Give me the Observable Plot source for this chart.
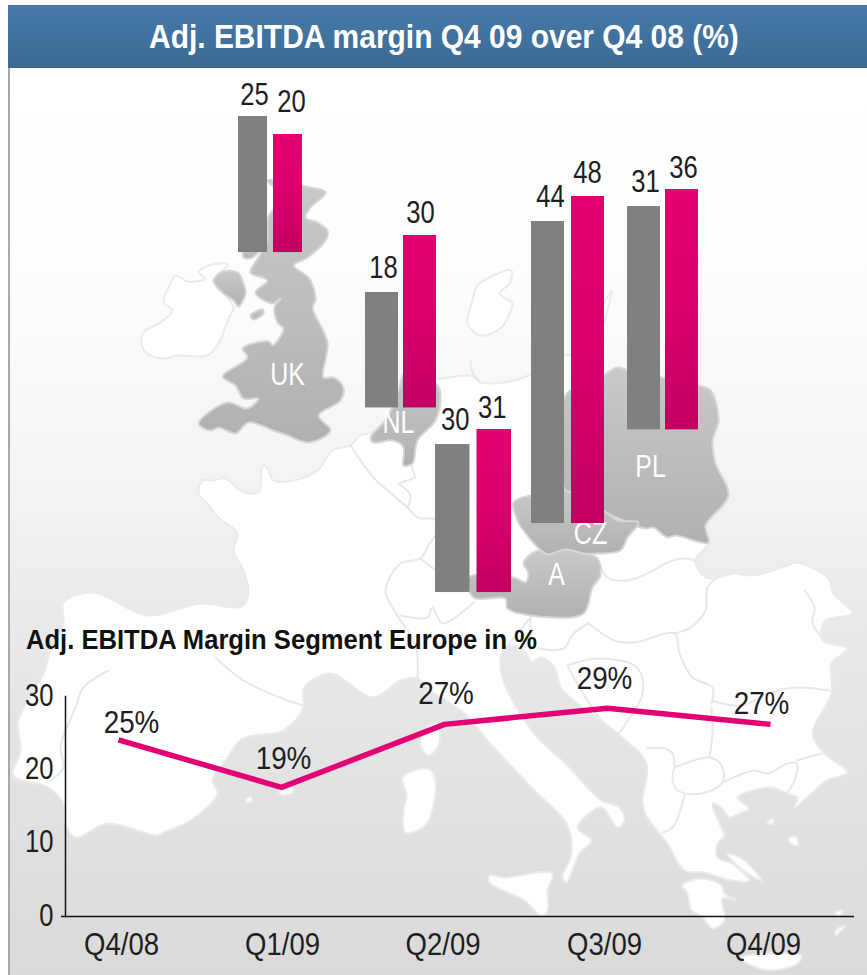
<!DOCTYPE html>
<html><head><meta charset="utf-8">
<script src="https://cdn.jsdelivr.net/npm/d3@7"></script>
<script src="https://cdn.jsdelivr.net/npm/@observablehq/plot@0.6"></script>
<style>
html,body{margin:0;padding:0;background:#fff}
#page{position:relative;width:867px;height:975px;overflow:hidden;font-family:"Liberation Sans",sans-serif}
#panel{position:absolute;left:8px;top:67px;right:0;bottom:0;border-left:2px solid #a8a8a8;background:linear-gradient(#fff 0%,#fcfcfc 25%,#f4f4f4 45%,#e9e9e9 62%,#dadada 100%)}
#title{position:absolute;left:8px;right:0;top:5px;height:63px;box-sizing:border-box;border-top:1px solid #56718c;border-bottom:1px solid #3a6488;background:linear-gradient(#457aab,#3d6a93);color:#fff;font-weight:700;font-size:34px;line-height:61px;white-space:nowrap}
#title span{position:absolute;left:141px;top:0;display:inline-block;transform:scaleX(.881);transform-origin:0 50%}
#sub{position:absolute;left:26px;top:622px;color:#111;font-weight:700;font-size:28px;line-height:36px;white-space:nowrap;transform:scaleX(.914);transform-origin:0 50%}
#page svg{position:absolute;overflow:visible;background:transparent}
</style></head>
<body><div id="page"><div id="panel"></div><div id="title"><span>Adj. EBITDA margin Q4 09 over Q4 08 (%)</span></div></div>
<script>
// ---------- chart data ----------
const periods = ["Q4 08", "Q4 09"];
const countries = ["UK", "NL", "A", "CZ", "PL"];
const valuesQ408 = [25, 18, 30, 44, 31];
const valuesQ409 = [20, 30, 31, 48, 36];
const quarters = ["Q4/08", "Q1/09", "Q2/09", "Q3/09", "Q4/09"];
const marginPlotted = [24.1, 17.6, 26.2, 28.4, 26.2];
const marginLabels = ["25%", "19%", "27%", "29%", "27%"];
const marginTicks = [0, 10, 20, 30];

// ---------- traced map outlines (map coordinates) ----------
const mainland = [[198,493],[202,480],[213,480],[225,478],[240,490],[258,492],[262,465],[267,468],[273,480],[293,480],[317,470],[332,450],[350,445],[360,435],[372,432],[387,417],[398,390],[405,372],[437,378],[470,375],[480,382],[503,382],[528,375],[548,360],[571,355],[603,375],[617,367],[627,370],[698,385],[710,390],[718,420],[712,440],[715,463],[728,495],[705,525],[708,542],[695,560],[705,577],[717,577],[733,573],[753,575],[787,565],[795,562],[827,577],[833,593],[852,613],[825,620],[822,640],[847,648],[831,663],[831,693],[812,733],[824,753],[847,772],[826,780],[794,807],[797,797],[786,793],[771,787],[737,797],[749,808],[741,812],[729,817],[721,807],[712,803],[719,823],[724,835],[717,843],[717,857],[731,863],[749,880],[731,880],[704,872],[684,870],[667,843],[647,817],[642,802],[646,763],[617,733],[561,688],[554,667],[541,657],[531,662],[526,653],[515,645],[503,650],[501,673],[531,730],[567,765],[601,800],[619,807],[624,820],[617,827],[601,807],[577,827],[591,840],[579,853],[566,882],[562,877],[571,853],[566,823],[534,790],[487,740],[464,713],[430,690],[417,678],[400,680],[373,697],[330,673],[303,688],[303,707],[283,730],[242,738],[227,757],[212,780],[217,793],[190,820],[163,832],[157,835],[107,823],[75,837],[65,823],[63,803],[48,787],[13,775],[20,750],[18,720],[43,673],[50,650],[63,622],[63,602],[93,592],[147,615],[200,603],[233,607],[243,605],[248,590],[243,570],[233,550],[237,533],[218,517],[207,503]];
const ireland = [[227,264],[208,265],[198,272],[205,278],[187,281],[175,275],[169,285],[163,302],[172,310],[160,322],[143,332],[142,347],[150,355],[165,358],[177,355],[207,355],[218,343],[228,318],[233,307],[223,293],[213,280]];
const denmark = [[467,323],[472,300],[477,285],[511,270],[509,283],[499,293],[512,303],[509,313],[501,327],[480,335]];
const sweden = [[611,290],[607,310],[600,330],[590,332],[600,310]];
const sicily = [[489,875],[504,877],[552,873],[547,890],[547,910],[541,915],[524,900],[489,882]];
const sardinia = [[402,777],[427,768],[434,775],[434,800],[425,825],[405,832],[403,810],[406,795]];
const corsica = [[423,730],[437,722],[438,745],[428,755],[420,745]];
const balearic1 = [[278,787],[293,788],[291,793],[280,794]];
const balearic2 = [[246,798],[251,796],[251,801],[246,802]];
const crete = [[741,957],[767,953],[801,955],[797,963],[771,970],[751,965]];
const peloponnese = [[682,885],[701,878],[721,885],[724,893],[736,900],[722,898],[724,920],[712,928],[701,915],[691,910],[687,893]];
const euboea = [[727,853],[744,860],[761,880],[740,868]];
const aegean1 = [[767,822],[773,818],[772,824]];
const aegean2 = [[788,838],[795,836],[798,845],[790,843]];
const aegean3 = [[835,912],[842,910],[838,916]];
const aegean4 = [[835,930],[845,925],[835,935]];
const whiteShapes = [mainland, ireland, denmark, sweden, sicily, sardinia, corsica, balearic1, balearic2, crete, peloponnese, euboea, aegean1, aegean2, aegean3, aegean4];

const ukOutline = [[267,180],[310,187],[325,192],[310,207],[305,217],[317,222],[327,230],[325,240],[307,257],[293,265],[308,277],[313,287],[315,300],[312,307],[327,342],[323,377],[333,377],[343,387],[340,400],[318,415],[330,430],[308,442],[287,435],[273,430],[248,422],[235,433],[218,427],[210,430],[198,423],[227,402],[247,408],[258,398],[243,398],[235,385],[222,376],[247,357],[242,348],[268,341],[272,345],[283,328],[277,322],[274,307],[280,298],[272,303],[255,292],[267,280],[250,272],[258,257],[267,240],[268,216],[275,206],[276,190]];
const ukIsland = [[243,250],[258,250],[252,257],[243,257]];
const northIreland = [[213,280],[223,271],[237,272],[243,283],[245,293],[238,306],[233,300],[223,293]];
const isleOfMan = [[250,315],[262,309],[263,313],[253,319]];
const netherlands = [[370,437],[387,417],[398,390],[405,372],[437,385],[440,397],[435,420],[417,440],[412,463],[403,465],[403,447],[393,440],[373,442]];
const poland = [[565,395],[603,375],[617,367],[627,370],[698,385],[710,390],[718,420],[712,440],[715,463],[728,495],[705,525],[708,542],[675,535],[667,537],[653,527],[645,528],[607,513],[565,490],[560,440]];
const czechia = [[513,502],[530,495],[565,490],[607,513],[617,520],[638,522],[627,537],[620,550],[600,553],[582,553],[565,549],[547,554],[523,530],[517,520]];
const austria = [[538,550],[547,554],[565,549],[582,553],[597,558],[600,575],[592,587],[583,613],[552,617],[507,608],[505,598],[473,597],[468,577],[513,577],[525,582],[528,573],[523,562]];
const grayShapes = [ukOutline, ukIsland, northIreland, isleOfMan, netherlands, poland, czechia, austria];

const borders = [
  [[215,657],[243,680],[287,700],[303,705]],
  [[108,670],[83,687],[75,707],[60,747],[63,767],[50,780]],
  [[350,445],[373,477],[393,495],[407,507],[417,517],[430,518],[445,520]],
  [[398,483],[410,495],[407,507]],[[415,477],[410,463]],[[415,477],[398,483]],
  [[445,520],[428,545],[420,558],[400,563],[385,590],[395,612],[415,645],[417,678]],
  [[400,615],[427,617],[432,607],[442,623],[473,602]],
  [[420,558],[440,572],[468,577]],
  [[530,617],[530,650]],[[588,623],[573,633],[563,648],[537,648]],
  [[597,558],[607,577],[627,580],[653,570],[667,562],[683,558],[695,560]],
  [[717,577],[707,587],[705,610],[690,627],[674,633]],
  [[587,622],[614,640],[634,642],[674,633],[679,653],[692,677],[712,687],[711,703]],
  [[711,700],[741,705],[770,692],[797,687],[829,690]],
  [[567,665],[597,658],[634,665],[642,678],[641,697],[627,720],[617,733],[601,720],[575,680],[567,665]],
  [[711,707],[712,733],[709,757]],
  [[674,767],[709,757],[721,765],[722,782],[701,793],[677,790],[672,777],[674,767]],
  [[684,795],[672,827],[662,832]],
  [[647,748],[664,748],[672,753],[674,767]],
  [[722,782],[754,770],[767,773],[787,763],[796,763],[794,780],[786,793]],
  [[796,760],[821,753]],
  [[804,590],[814,607],[812,623],[825,640]],
  [[470,360],[472,372],[480,382]],
  [[503,650],[530,617]]
];

// ---------- layout for the five column pairs ----------
const pairLeft = [238, 365, 435, 531, 627];
const pairWidth = [64, 71, 76, 73, 71];
const pairGap = [6, 5, 7, 7, 5];
const pairBottom = [252, 407.5, 592, 523, 429.5];
const pairBaseline = [-12.8, -6.3, 20.13, -4.32, -34.7];
const pairScale = [3.6, 4.75, 15, 6.25, 3.4];
const labelDx = [[1.5,3.5],[1.5,0.5],[2.5,-2],[2.5,-0.5],[1.5,1.5]];
const labelDy = [[-22,-33],[-25,-23],[-25,-22],[-25,-24],[-25,-22]];
const lineLabelDx = [13,2,1.5,-3,-9];
const lineLabelDy = [-17,-29,-31,-29,-21];
const quarterTickDx = [3,1,-1.5,-3,-7];

const page = document.getElementById("page");
const font = '"Liberation Sans",sans-serif';
const textSize = 32;
const ink = "#1e1e1e";

// condense real SVG text horizontally: the installed sans has no narrow cut
function condense(svg){
  svg.querySelectorAll("text").forEach(t=>{
    const s=t.textContent;
    const f=/%/.test(s)?0.87:/Q/.test(s)?0.86:/^\d+$/.test(s)?0.8:0.78;
    const len=t.getComputedTextLength();
    if(len>0){t.setAttribute("textLength",(len*f).toFixed(1));t.setAttribute("lengthAdjust","spacingAndGlyphs");}
  });
}

// ---------- map ----------
const mapX = {domain:[0,867], range:[0,867]};
const mapY = {domain:[0,975], range:[0,975]};
const shape = (pts, opts) => Plot.line(pts, {x:d=>d[0], y:d=>d[1], curve:"catmull-rom-closed", ...opts});
const mapLabels = [["UK",287,374],["NL",398,422],["PL",650,466],["CZ",590,533],["A",556,574]];
const map = Plot.plot({
  width:867, height:975, margin:0, x:{...mapX, axis:null}, y:{...mapY, axis:null},
  marks:[
    ...whiteShapes.map(s=>shape(s,{fill:"#fff",stroke:"#ebebeb",strokeWidth:2})),
    ...borders.map(b=>Plot.line(b,{x:d=>d[0],y:d=>d[1],stroke:"#e8e8e8",strokeWidth:2,curve:"catmull-rom"})),
    ...grayShapes.map(s=>shape(s,{fill:"url(#land)",stroke:"#d6d6d6",strokeWidth:2})),
    Plot.text(mapLabels,{x:d=>d[1],y:d=>d[2],text:d=>d[0],fill:"#fff",fontSize:textSize,fontFamily:font})
  ]
});
d3.select(map).append("defs").html(
  '<linearGradient id="land" x1="0" y1="0" x2="0" y2="1"><stop offset="0" stop-color="#c9c9c9"/><stop offset="1" stop-color="#b0b0b0"/></linearGradient>'+
  '<linearGradient id="mag" x1="0" y1="0" x2="0" y2="1"><stop offset="0" stop-color="#e40072"/><stop offset="0.45" stop-color="#dc006e"/><stop offset="1" stop-color="#c30061"/></linearGradient>');
map.style.left="0";map.style.top="0";
page.appendChild(map);
condense(map);

// ---------- column pairs: one small Plot per country, each on its own value scale ----------
countries.forEach((c,i)=>{
  const vals=[valuesQ408[i],valuesQ409[i]];
  const rows=periods.map((p,j)=>({p,v:vals[j]}));
  const hi=Math.max(...vals), pad=50;
  const h=pad+(hi-pairBaseline[i])*pairScale[i];
  const band=(pairWidth[i]-pairGap[i])/2;
  const chart=Plot.plot({
    width:pairWidth[i], height:h, marginTop:pad, marginBottom:0, marginLeft:0, marginRight:0,
    x:{domain:periods, axis:null, paddingInner:pairGap[i]/(band+pairGap[i]), paddingOuter:0, round:false},
    y:{domain:[pairBaseline[i],hi], axis:null},
    marks:[
      Plot.barY(rows,{x:"p",y1:()=>pairBaseline[i],y2:"v",fill:d=>d.p===periods[0]?"#808080":"url(#mag)",inset:0}),
      ...rows.map((r,j)=>Plot.text([r],{x:"p",y:"v",text:d=>String(d.v),dx:labelDx[i][j],dy:labelDy[i][j],fontSize:textSize,fontFamily:font,fill:ink}))
    ]
  });
  chart.style.left=pairLeft[i]+"px";
  chart.style.top=(pairBottom[i]-h)+"px";
  page.appendChild(chart);
  condense(chart);
});

// ---------- subtitle ----------
const sub=document.createElement("div");sub.id="sub";sub.textContent="Adj. EBITDA Margin Segment Europe in %";page.appendChild(sub);

// ---------- line chart ----------
const rows=quarters.map((q,i)=>({q,v:marginPlotted[i],t:marginLabels[i]}));
const line=Plot.plot({
  width:867, height:325, marginTop:46, marginBottom:59, marginLeft:65, marginRight:13,
  x:{domain:quarters, type:"point", padding:0, range:[116,771], axis:null},
  y:{domain:[0,30], axis:null},
  style:{fontFamily:font},
  marks:[
    Plot.frame({anchor:"left",stroke:"#111",strokeWidth:1.5}),
    Plot.ruleY([0],{stroke:"#111",strokeWidth:1.5}),
    Plot.axisY({ticks:marginTicks,tickSize:0,tickPadding:12,dy:-1,fontSize:textSize,label:null,fill:ink,fontFamily:font}),
    Plot.axisY({ticks:[0],tickSize:4,text:null,label:null,stroke:"#111",strokeWidth:1.5}),
    ...quarters.map((q,i)=>Plot.axisX({ticks:[q],dx:quarterTickDx[i],tickSize:0,tickPadding:16,fontSize:textSize,label:null,fill:ink,fontFamily:font})),
    Plot.line(rows,{x:"q",y:"v",stroke:"#e20074",strokeWidth:5.5,strokeLinecap:"butt",strokeLinejoin:"miter"}),
    ...rows.map((r,i)=>Plot.text([r],{x:"q",y:"v",text:"t",dx:lineLabelDx[i],dy:lineLabelDy[i],fontSize:textSize,fontFamily:font,fill:ink}))
  ]
});
line.style.left="0";line.style.top="650px";
page.appendChild(line);
condense(line);
</script></body></html>
